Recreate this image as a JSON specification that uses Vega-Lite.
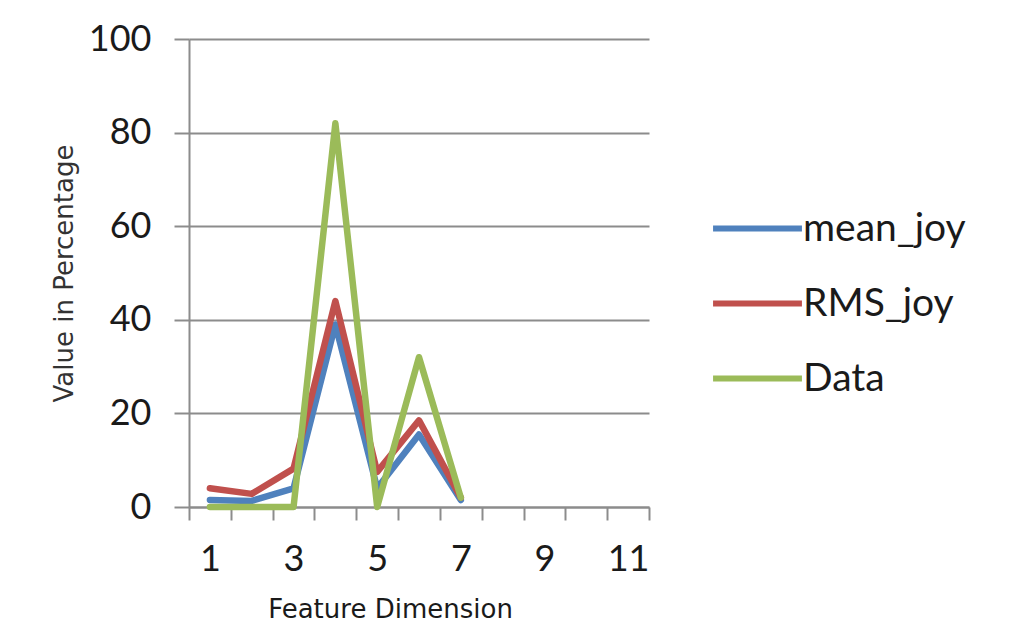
{
  "$schema": "https://vega.github.io/schema/vega-lite/v6.json",
  "autosize": {"type": "none"},
  "padding": {"left": 189, "top": 39, "right": 365, "bottom": 137},
  "width": 460,
  "height": 468,
  "background": "white",
  "config": {
    "font": "Lato",
    "view": {"stroke": null},
    "axis": {"domainColor": "#8c8c8c", "tickColor": "#8c8c8c", "gridColor": "#8c8c8c", "domainWidth": 2, "tickWidth": 2, "gridWidth": 2, "labelColor": "#1a1a1a", "titleColor": "#1a1a1a", "labelFont": "Lato", "titleFont": "DejaVu Sans", "titleFontWeight": "normal"}
  },
  "data": {
    "values": [
      {"x": 1, "series": "mean_joy", "v": 1.5},
      {"x": 2, "series": "mean_joy", "v": 1.3},
      {"x": 3, "series": "mean_joy", "v": 4},
      {"x": 4, "series": "mean_joy", "v": 39},
      {"x": 5, "series": "mean_joy", "v": 4},
      {"x": 6, "series": "mean_joy", "v": 15.5},
      {"x": 7, "series": "mean_joy", "v": 1.5},
      {"x": 1, "series": "RMS_joy", "v": 4},
      {"x": 2, "series": "RMS_joy", "v": 2.8},
      {"x": 3, "series": "RMS_joy", "v": 8.2},
      {"x": 4, "series": "RMS_joy", "v": 44},
      {"x": 5, "series": "RMS_joy", "v": 7.5},
      {"x": 6, "series": "RMS_joy", "v": 18.5},
      {"x": 7, "series": "RMS_joy", "v": 2},
      {"x": 1, "series": "Data", "v": 0},
      {"x": 2, "series": "Data", "v": 0},
      {"x": 3, "series": "Data", "v": 0},
      {"x": 4, "series": "Data", "v": 82},
      {"x": 5, "series": "Data", "v": 0},
      {"x": 6, "series": "Data", "v": 32},
      {"x": 7, "series": "Data", "v": 2}
    ]
  },
  "mark": {"type": "line", "strokeWidth": 6.5, "strokeCap": "round", "strokeJoin": "round"},
  "encoding": {
    "x": {
      "field": "x", "type": "quantitative",
      "scale": {"domain": [0.5, 11.5], "nice": false, "zero": false},
      "axis": {
        "title": "Feature Dimension",
        "grid": false,
        "values": [0.5, 1, 1.5, 2.5, 3, 3.5, 4.5, 5, 5.5, 6.5, 7, 7.5, 8.5, 9, 9.5, 10.5, 11, 11.5],
        "labelExpr": "datum.value % 2 == 1 ? format(datum.value, 'd') : ''",
        "tickOpacity": {"condition": {"test": "datum.value % 1 == 0", "value": 0}, "value": 1},
        "tickSize": 13,
        "labelPadding": 22,
        "labelFontSize": 36,
        "labelOverlap": false,
        "labelFlush": false,
        "labelBound": false,
        "titleFontSize": 26,
        "titleX": 201,
        "titleY": 110,
        "titleBaseline": "alphabetic",
        "titleAnchor": null
      }
    },
    "y": {
      "field": "v", "type": "quantitative",
      "scale": {"domain": [0, 100], "nice": false},
      "axis": {
        "title": "Value in Percentage",
        "values": [0, 20, 40, 60, 80, 100],
        "tickSize": 15,
        "labelPadding": 23,
        "labelFontSize": 36,
        "titleFontSize": 26,
        "titleX": -117,
        "titleY": 234,
        "titleBaseline": "alphabetic",
        "titleColor": "#333333"
      }
    },
    "color": {
      "field": "series", "type": "nominal",
      "scale": {"domain": ["mean_joy", "RMS_joy", "Data"], "range": ["#4F81BD", "#C0504D", "#9BBB59"]},
      "legend": {
        "title": null,
        "orient": "none",
        "legendX": 521,
        "legendY": 142,
        "padding": 0,
        "symbolType": "stroke",
        "symbolSize": 7900,
        "symbolStrokeWidth": 6,
        "labelFontSize": 39,
        "labelColor": "#1a1a1a",
        "labelOffset": -2,
        "labelLimit": 400,
        "rowPadding": 7
      }
    }
  }
}
